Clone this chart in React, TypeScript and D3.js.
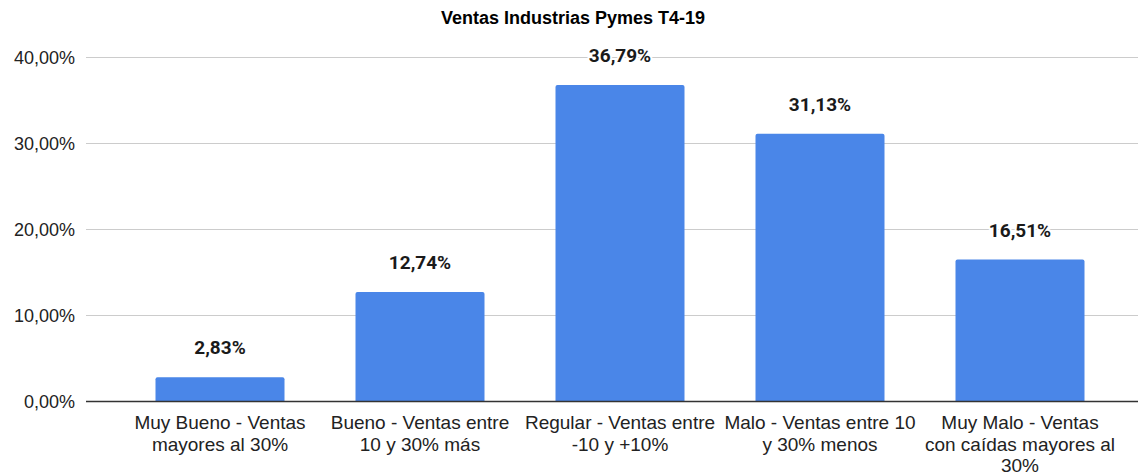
import React from "react";
import * as d3 from "d3";

const title = "Ventas Industrias Pymes T4-19";
const categories = [
  ["Muy Bueno - Ventas", "mayores al 30%"],
  ["Bueno - Ventas entre", "10 y 30% más"],
  ["Regular - Ventas entre", "-10 y +10%"],
  ["Malo - Ventas entre 10", "y 30% menos"],
  ["Muy Malo - Ventas", "con caídas mayores al", "30%"],
];
const values = [0.0283, 0.1274, 0.3679, 0.3113, 0.1651];
const yTicks = [0, 0.1, 0.2, 0.3, 0.4];

const W = 1138;
const H = 474;
const ARIAL = "'Liberation Sans', Arial, sans-serif";
const ROBOTO = "Roboto, Arial, sans-serif";

const fmt = (v: number) => (v * 100).toFixed(2).replace(".", ",") + "%";

export default function App() {
  const ids = categories.map((_, i) => String(i));
  const x = d3.scaleBand<string>().domain(ids).range([120, 1120]).paddingInner(0.355).paddingOuter(0.1775);
  const y = d3.scaleLinear().domain([0, 0.4]).range([401.5, 57.5]);
  const r = 2;
  return (
    <svg width={W} height={H} style={{ position: "absolute", left: 0, top: 0, background: "#fff" }}>
      <rect width={W} height={H} fill="#fff" />
      <text x={573} y={24} textAnchor="middle" fontWeight="bold" fontSize={18} fill="#000" fontFamily={ARIAL}>
        {title}
      </text>
      {yTicks.map((t) => (
        <g key={t}>
          {t !== 0 && <line x1={86} x2={W} y1={y(t)} y2={y(t)} stroke="#cccccc" strokeWidth={1} />}
          <text x={75} y={y(t) + 6} textAnchor="end" fontSize={18} fill="#222" fontFamily={ARIAL}>
            {fmt(t)}
          </text>
        </g>
      ))}
      {values.map((v, i) => {
        const x0 = x(ids[i])!;
        const bw = x.bandwidth();
        const y0 = y(v);
        const yb = y(0);
        const d = `M${x0},${yb}V${y0 + r}Q${x0},${y0} ${x0 + r},${y0}H${x0 + bw - r}Q${x0 + bw},${y0} ${x0 + bw},${y0 + r}V${yb}Z`;
        return <path key={i} d={d} fill="#4a86e8" />;
      })}
      <line x1={86} x2={W} y1={y(0)} y2={y(0)} stroke="#333" strokeWidth={1.5} />
      {values.map((v, i) => {
        const cx = x(ids[i])! + x.bandwidth() / 2;
        return (
          <text key={i} x={cx} y={y(v) - 23} textAnchor="middle" fontWeight="bold" fontSize={19} fill="#1a1a1a"
            fontFamily={ROBOTO} stroke="#fff" strokeWidth={4} paintOrder="stroke" strokeLinejoin="round">
            {fmt(v)}
          </text>
        );
      })}
      {categories.map((lines, i) => {
        const cx = x(ids[i])! + x.bandwidth() / 2;
        return (
          <text key={i} x={cx} textAnchor="middle" fontSize={19} fill="#222" fontFamily={ARIAL}>
            {lines.map((l, j) => (
              <tspan key={j} x={cx} y={429 + j * 21.5}>
                {l}
              </tspan>
            ))}
          </text>
        );
      })}
    </svg>
  );
}
